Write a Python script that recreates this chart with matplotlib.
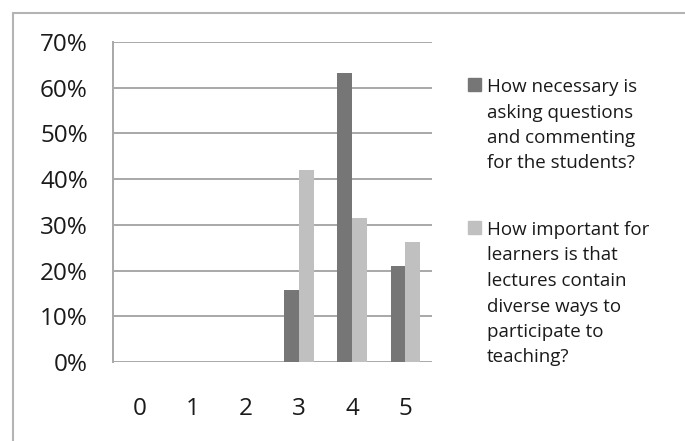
import matplotlib.pyplot as plt
from matplotlib.patches import Rectangle
import numpy as np

plt.rcParams['font.family'] = ['Open Sans', 'DejaVu Sans']

# answers on the 0..5 scale, share of respondents
scores = [0, 1, 2, 3, 4, 5]
necessary = [0.0, 0.0, 0.0, 0.158, 0.632, 0.211]
important = [0.0, 0.0, 0.0, 0.421, 0.316, 0.263]
labels = ['How necessary is\nasking questions\nand commenting\nfor the students?',
          'How important for\nlearners is that\nlectures contain\ndiverse ways to\nparticipate to\nteaching?']
yticks = [0, 0.1, 0.2, 0.3, 0.4, 0.5, 0.6, 0.7]

dark = '#767676'
light = '#c0c0c0'
grid_c = '#a8a8a8'

W, H = 685, 441
fig = plt.figure(figsize=(W / 100, H / 100), dpi=100)

# outer chart frame (runs off the right and bottom edges)
fig.patches.append(Rectangle((13 / W, -0.1), 1.0, 1 - 13 / H + 0.1,
                             transform=fig.transFigure, fill=False,
                             edgecolor='#b4b4b4', linewidth=1.5))

ax = fig.add_axes([113 / W, 79 / H, 319 / W, 320 / H])
x = np.arange(len(scores))
bw = 0.28
ax.bar(x - bw / 2, necessary, bw, color=dark, zorder=3)
ax.bar(x + bw / 2, important, bw, color=light, zorder=3)

ax.set_xlim(-0.5, 5.5)
ax.set_ylim(0, 0.7)
ax.set_yticks(yticks)
ax.set_yticklabels(['{:.0f}%'.format(v * 100) for v in yticks])
ax.set_xticks(x)
ax.set_xticklabels([str(s) for s in scores])
ax.tick_params(length=0, labelsize=17.5, labelcolor='#1a1a1a')
ax.tick_params(axis='y', pad=18)
ax.tick_params(axis='x', pad=25)
ax.grid(axis='y', color=grid_c, linewidth=1.4, zorder=1)
for s in ('top', 'right', 'bottom'):
    ax.spines[s].set_visible(False)
ax.spines['left'].set_color(grid_c)
ax.spines['left'].set_linewidth(1.4)

# legend drawn line by line
entries = [(labels[0], dark, 92), (labels[1], light, 235)]
for text, col, base in entries:
    fig.patches.append(Rectangle((468 / W, 1 - (base - 1) / H), 13 / W, 13 / H,
                                 transform=fig.transFigure, color=col))
    for i, line in enumerate(text.split('\n')):
        fig.text(487 / W, 1 - (base + i * 25.5) / H, line, fontsize=13.5,
                 color='#1a1a1a', va='baseline', ha='left')

fig.savefig('out.png', dpi=100)
